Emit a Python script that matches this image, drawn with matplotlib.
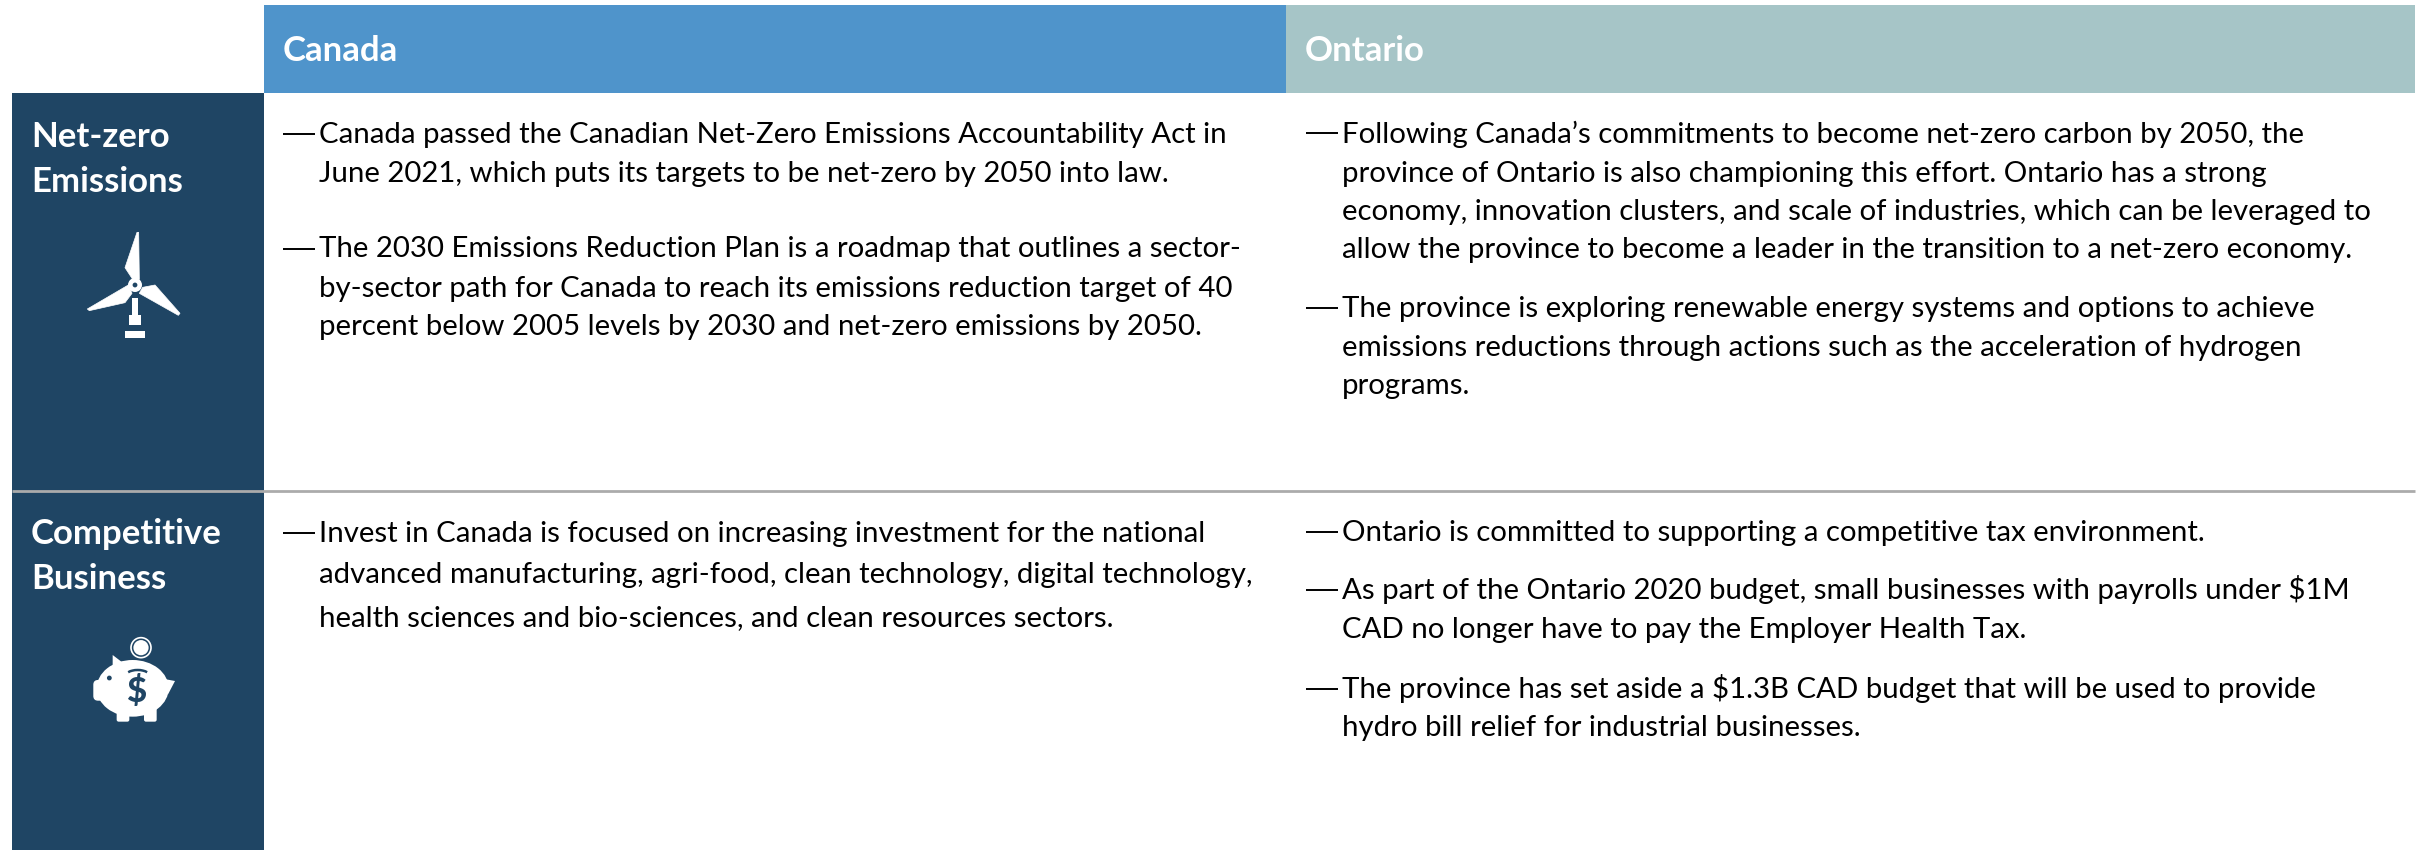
import matplotlib
matplotlib.use("Agg")
import matplotlib.pyplot as plt
from matplotlib.patches import Rectangle, Polygon, Circle, Ellipse, FancyBboxPatch, Arc

FONT = "Lato"
W, H = 2428, 850
NAVY, BLUE, TEAL = "#1F4564", "#4F94CB", "#A6C5C7"

column_titles = ["Canada", "Ontario"]
row_titles = [["Net-zero", "Emissions"], ["Competitive", "Business"]]

canada_net_zero = [
    ["Canada passed the Canadian Net-Zero Emissions Accountability Act in",
     "June 2021, which puts its targets to be net-zero by 2050 into law."],
    ["The 2030 Emissions Reduction Plan is a roadmap that outlines a sector-",
     "by-sector path for Canada to reach its emissions reduction target of 40",
     "percent below 2005 levels by 2030 and net-zero emissions by 2050."],
]
ontario_net_zero = [
    ["Following Canada’s commitments to become net-zero carbon by 2050, the",
     "province of Ontario is also championing this effort. Ontario has a strong",
     "economy, innovation clusters, and scale of industries, which can be leveraged to",
     "allow the province to become a leader in the transition to a net-zero economy."],
    ["The province is exploring renewable energy systems and options to achieve",
     "emissions reductions through actions such as the acceleration of hydrogen",
     "programs."],
]
canada_business = [
    ["Invest in Canada is focused on increasing investment for the national",
     "advanced manufacturing, agri-food, clean technology, digital technology,",
     "health sciences and bio-sciences, and clean resources sectors."],
]
ontario_business = [
    ["Ontario is committed to supporting a competitive tax environment."],
    ["As part of the Ontario 2020 budget, small businesses with payrolls under $1M",
     "CAD no longer have to pay the Employer Health Tax."],
    ["The province has set aside a $1.3B CAD budget that will be used to provide",
     "hydro bill relief for industrial businesses."],
]

fig = plt.figure(figsize=(W / 100, H / 100), dpi=100, facecolor="white")
ax = fig.add_axes([0, 0, 1, 1])
ax.set_xlim(0, W)
ax.set_ylim(H, 0)
ax.axis("off")

# Layout blocks
ax.add_patch(Rectangle((12, 93), 252, 757, color=NAVY, lw=0))
ax.add_patch(Rectangle((264, 5), 1022, 88, color=BLUE, lw=0))
ax.add_patch(Rectangle((1286, 5), 1129, 88, color=TEAL, lw=0))
ax.plot([12, 2415], [491, 491], color="#ABABAB", lw=2, solid_capstyle="butt", zorder=3)

ax.text(283, 61, column_titles[0], color="white", fontsize=25, fontweight="bold",
        family=FONT, va="baseline")
ax.text(1305, 61, column_titles[1], color="white", fontsize=25, fontweight="bold",
        family=FONT, va="baseline")

for title, ys in zip(row_titles, [(147.3, 192.3), (544.3, 589.3)]):
    for line, y in zip(title, ys):
        ax.text(31, y, line, color="white", fontsize=25, fontweight="bold",
                family=FONT, va="baseline")


def bullets(groups, x_dash, x_text, baselines, dash_ys, size=21.2):
    k = 0
    for lines, dy in zip(groups, dash_ys):
        ax.plot([x_dash, x_dash + 32], [dy, dy], color="black", lw=1.4,
                solid_capstyle="butt")
        for line in lines:
            ax.text(x_text, baselines[k], line, color="black", fontsize=size,
                    family=FONT, va="baseline")
            k += 1


bullets(canada_net_zero, 283, 319, [143, 181.7, 257.3, 296.7, 335], [134, 249])
bullets(ontario_net_zero, 1306, 1342, [143.3, 182, 220.3, 258.3, 317.3, 356, 394.3],
        [133.3, 308.3])
bullets(canada_business, 283, 319, [541.7, 583.3, 626.3], [532.7])
bullets(ontario_business, 1306, 1342, [540.7, 599.3, 638.3, 697.7, 736],
        [532.3, 590, 688.7])


def z1(pts):
    return [(x / 3, y / 3) for x, y in pts]


def z2(pts):
    return [(x / 3, y / 3 + 480) for x, y in pts]


# Wind turbine icon
for blade in (
    [(411, 697), (416, 697), (418, 838), (398, 838), (375, 803)],
    [(428, 862), (465, 855), (540, 940), (535, 946), (418, 880)],
    [(262, 927), (385, 855), (396, 880), (375, 908), (268, 932)],
):
    ax.add_patch(Polygon(z1(blade), closed=True, color="white", lw=0.5, joinstyle="round"))
ax.add_patch(Circle((405 / 3, 855 / 3), 7, color="white", lw=0))
ax.add_patch(Circle((405 / 3, 855 / 3), 2.4, color=NAVY, lw=0))
for (a, b, c, d) in [(397, 893, 413, 945), (388, 945, 423, 975), (375, 993, 435, 1013)]:
    ax.add_patch(Rectangle((a / 3, b / 3), (c - a) / 3, (d - b) / 3, color="white", lw=0))

# Piggy bank icon
ax.add_patch(Ellipse((398 / 3, 625 / 3 + 480), 216 / 3, 170 / 3, color="white", lw=0))
ax.add_patch(FancyBboxPatch((282 / 3, 602 / 3 + 480), 40 / 3, 58 / 3,
                            boxstyle="round,pad=0,rounding_size=4", color="white", lw=1))
ax.add_patch(Polygon(z2([(338, 525), (368, 548), (338, 575)]), closed=True, color="white", lw=0))
ax.add_patch(Polygon(z2([(488, 596), (525, 603), (503, 645)]), closed=True, color="white", lw=0))
for a, c in [(350, 388), (432, 470)]:
    ax.add_patch(FancyBboxPatch((a / 3, 680 / 3 + 480), (c - a) / 3, 45 / 3,
                                boxstyle="round,pad=0,rounding_size=2", color="white", lw=0))
ax.add_patch(Circle((328 / 3, 594 / 3 + 480), 2.4, color=NAVY, lw=0))
ax.add_patch(Arc((413 / 3, 590 / 3 + 480), 76 / 3, 40 / 3, theta1=205, theta2=335,
                 color=NAVY, lw=1.8))
ax.text(408 / 3, 634 / 3 + 480, "$", color=NAVY, fontsize=25, fontweight="black",
        family=FONT, ha="center", va="center")
ax.add_patch(Circle((423 / 3, 503 / 3 + 480), 10, facecolor=NAVY, edgecolor="white", lw=1.2))
ax.add_patch(Circle((423 / 3, 503 / 3 + 480), 7.6, color="white", lw=0))

fig.savefig("out.png", dpi=100, facecolor="white")
